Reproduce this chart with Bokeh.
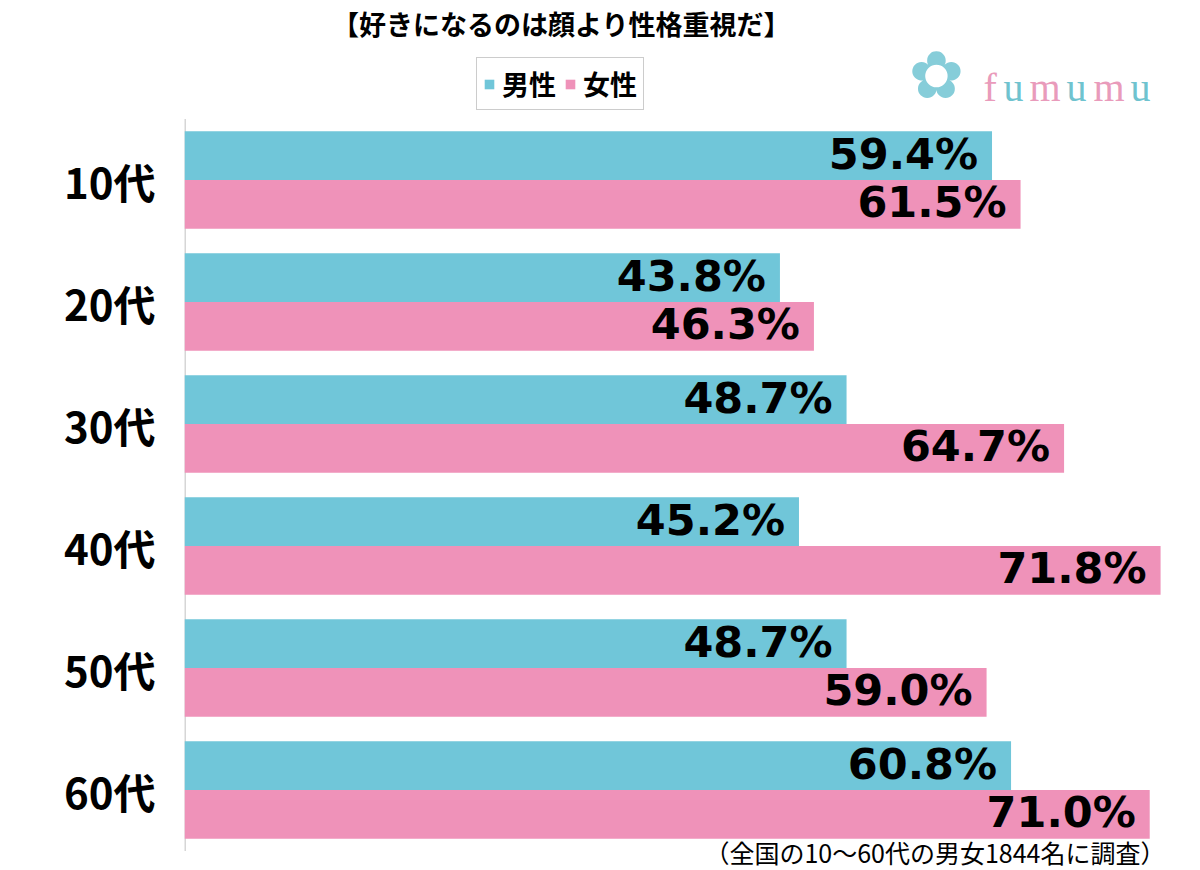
from bokeh.plotting import figure
from bokeh.models import (ColumnDataSource, Range1d, Legend, LegendItem, Label, FixedTicker)
from bokeh.core.properties import value
from bokeh.embed import file_html
from bokeh.resources import INLINE

# ---- data ----
categories = ["10代", "20代", "30代", "40代", "50代", "60代"]
male = [59.4, 43.8, 48.7, 45.2, 48.7, 60.8]
female = [61.5, 46.3, 64.7, 71.8, 59.0, 71.0]
series_names = ["男性", "女性"]
title_text = "【好きになるのは顔より性格重視だ】"
note_text = "（全国の10〜60代の男女1844名に調査）"

CYAN = "#70c6d9"
PINK = "#ef92b9"
JP = "Noto Sans CJK JP"

W, H = 1195, 870
pos = list(range(len(categories)))

src = ColumnDataSource(dict(
    pos=pos,
    ym=[i - 0.2 for i in pos],
    yf=[i + 0.2 for i in pos],
    male=male,
    female=female,
    male_lbl=[f"{v:.1f}%" for v in male],
    female_lbl=[f"{v:.1f}%" for v in female],
))

# vertical: category i centred at 179.5 + 122*i px from top; frame spans the whole height
top_v = -179.5 / 122
bot_v = (H - 179.5) / 122

p = figure(width=W, height=H,
           y_range=Range1d(start=bot_v, end=top_v),
           x_range=Range1d(0, 74.0),
           output_backend="svg", toolbar_location=None,
           min_border_left=184, min_border_right=W - 1190,
           min_border_top=0, min_border_bottom=0)

p.outline_line_color = None
p.xgrid.visible = False
p.ygrid.visible = False
p.xaxis.visible = False
p.background_fill_color = "white"
p.border_fill_color = "white"

ax = p.yaxis[0]
ax.ticker = FixedTicker(ticks=pos)
ax.major_label_overrides = {i: c for i, c in zip(pos, categories)}
ax.axis_line_color = None
ax.major_tick_line_color = None
ax.minor_tick_line_color = None
ax.major_tick_in = 0
ax.major_tick_out = 0
ax.major_label_standoff = 29
ax.major_label_text_font = JP
ax.major_label_text_font_size = "42px"
ax.major_label_text_font_style = "bold"
ax.major_label_text_color = "black"

# axis line over the category band only
p.segment(x0=[0], y0=[pos[0] - 0.5], x1=[0], y1=[pos[-1] + 0.5],
          line_color="#d6d6d6", line_width=3)

rm = p.hbar(y="ym", left=0, right="male", height=0.4,
            source=src, fill_color=CYAN, line_color=None)
rf = p.hbar(y="yf", left=0, right="female", height=0.4,
            source=src, fill_color=PINK, line_color=None)

for col, lbl, ycol in [("male", "male_lbl", "ym"), ("female", "female_lbl", "yf")]:
    p.text(x=col, y=ycol, text=lbl, source=src,
           text_align="right", text_baseline="middle", x_offset=-14, y_offset=-2,
           text_font=value("DejaVu Sans"), text_font_style="bold",
           text_font_size="43px", text_color="black")

legend = Legend(items=[LegendItem(label=series_names[0], renderers=[rm]),
                       LegendItem(label=series_names[1], renderers=[rf])],
                orientation="horizontal", location=(292, H - 110),
                glyph_width=12, glyph_height=12, label_standoff=7, spacing=8,
                padding=6, margin=0,
                label_text_font=JP, label_text_font_size="27px",
                label_text_font_style="bold", label_text_color="black",
                border_line_color="#9a9a9a", border_line_width=1,
                background_fill_color="white", background_fill_alpha=1)
p.add_layout(legend)

p.add_layout(Label(x=561 - 184, y=H - 23, x_units="screen", y_units="screen", text=title_text,
                   text_align="center", text_baseline="middle", text_font=JP,
                   text_font_size="27px", text_font_style="bold", text_color="black"))

p.add_layout(Label(x=1165 - 184, y=H - 851, x_units="screen", y_units="screen", text=note_text,
                   text_align="right", text_baseline="middle", text_font=JP,
                   text_font_size="25px", text_color="black"))

# logo
p.add_layout(Label(x=936 - 184, y=H - 75, x_units="screen", y_units="screen", text="✿",
                   text_align="center", text_baseline="middle", text_font="DejaVu Sans",
                   text_font_size="66px", text_color="#86cdd9"))
logo_letters = ["f", "u", "m", "u", "m", "u"]
logo_colors = ["#e99bbb", "#6fc3cf", "#e99bbb", "#6fc3cf", "#e99bbb", "#6fc3cf"]
logo_x = [983, 1003, 1029, 1066, 1093, 1130]
for ch, c, xx in zip(logo_letters, logo_colors, logo_x):
    p.add_layout(Label(x=xx - 184, y=H - 87, x_units="screen", y_units="screen", text=ch,
                       text_align="left", text_baseline="alphabetic",
                       text_font="Liberation Serif", text_font_size="40px", text_color=c))

open("out.html", "w").write(file_html(p, INLINE))
